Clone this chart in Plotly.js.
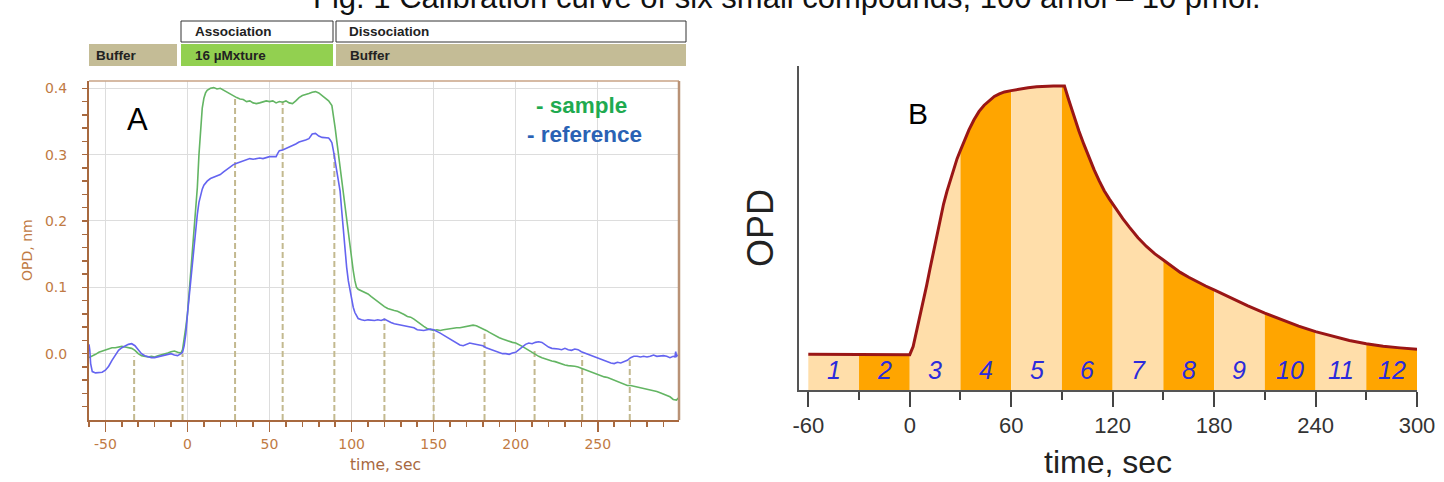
<!DOCTYPE html>
<html>
<head>
<meta charset="utf-8">
<script src="https://cdn.plot.ly/plotly-3.0.1.min.js"></script>
<style>html,body{margin:0;padding:0;background:#fff;}#chart{width:1444px;height:482px;}</style>
</head>
<body>
<div id="chart"></div>
<script>
// ---------------- DATA ----------------
// Panel A: sample (green) trace
const sampleTime = [-60,-58,-56,-54,-52,-50,-48,-46,-44,-42,-40,-38,-36,-34,-32,-30,-28,-26,-24,-22,-20,-18,-16,-14,-12,-10,-8,-6,-4,-3,-2,-1,0,1,2,3,4,5,6,7,8,9,10,11,12,14,16,18,20,22,24,26,28,30,32,34,36,38,40,42,44,46,48,50,52,54,56,58,60,62,64,66,68,70,72,74,76,78,80,82,84,86,88,89,90,91,92,93,94,95,96,97,98,99,100,101,102,103,104,106,108,110,112,114,116,118,120,122,124,126,128,130,132,134,136,138,140,142,144,146,148,150,152,154,156,158,160,162,164,166,168,170,172,174,176,178,180,182,184,186,188,190,192,194,196,198,200,202,204,206,208,210,212,214,216,218,220,222,224,226,228,230,232,234,236,238,240,242,244,246,248,250,252,254,256,258,260,262,264,266,268,270,272,274,276,278,280,282,284,286,288,290,292,294,296,298,299];
const sampleOPD = [-0.006,-0.004,-0.001,0.002,0.004,0.006,0.008,0.009,0.009,0.010,0.011,0.010,0.009,0.008,0.005,0.000,-0.003,-0.004,-0.005,-0.004,-0.005,-0.003,-0.002,0.000,0.001,0.003,0.004,0.002,0.001,0.006,0.02,0.04,0.06,0.09,0.12,0.15,0.185,0.215,0.25,0.30,0.34,0.37,0.385,0.393,0.397,0.400,0.401,0.399,0.400,0.397,0.394,0.391,0.388,0.386,0.384,0.383,0.380,0.381,0.378,0.377,0.378,0.379,0.381,0.380,0.381,0.378,0.380,0.379,0.381,0.378,0.377,0.381,0.386,0.389,0.390,0.392,0.394,0.395,0.393,0.389,0.384,0.381,0.374,0.36,0.34,0.32,0.30,0.28,0.26,0.24,0.22,0.20,0.18,0.16,0.14,0.125,0.11,0.10,0.097,0.095,0.093,0.090,0.086,0.082,0.078,0.074,0.071,0.068,0.066,0.065,0.064,0.062,0.059,0.056,0.055,0.052,0.048,0.044,0.041,0.038,0.036,0.035,0.036,0.035,0.036,0.037,0.037,0.038,0.039,0.039,0.040,0.041,0.042,0.043,0.042,0.040,0.038,0.035,0.032,0.029,0.026,0.024,0.022,0.020,0.018,0.017,0.016,0.014,0.011,0.008,0.005,0.002,-0.002,-0.004,-0.006,-0.008,-0.010,-0.011,-0.012,-0.014,-0.016,-0.017,-0.018,-0.018,-0.019,-0.020,-0.022,-0.024,-0.026,-0.028,-0.030,-0.032,-0.033,-0.035,-0.036,-0.038,-0.040,-0.042,-0.044,-0.046,-0.048,-0.048,-0.049,-0.050,-0.051,-0.052,-0.053,-0.054,-0.055,-0.057,-0.059,-0.061,-0.063,-0.065,-0.069,-0.070,-0.067];
// Panel A: reference (blue) trace
const referenceTime = [-60,-59.5,-59,-58,-56,-54,-52,-50,-48,-46,-44,-42,-40,-38,-36,-34,-32,-30,-28,-26,-24,-22,-20,-18,-16,-14,-12,-10,-8,-6,-4,-3,-2,-1,0,1,2,3,4,5,6,7,8,9,10,12,14,16,18,20,22,24,26,28,30,32,34,36,38,40,42,44,46,48,50,52,54,55,56,58,60,62,64,66,68,70,72,74,76,78,80,82,84,86,87,88,89,90,91,92,93,94,95,96,97,98,99,100,101,102,103,104,106,108,110,112,114,116,118,120,122,124,126,128,130,132,134,136,138,140,142,144,146,148,150,152,154,156,158,160,162,164,166,168,170,172,174,176,178,180,182,184,186,188,190,192,194,196,198,200,202,204,206,208,210,212,214,216,218,220,222,224,226,228,230,232,234,236,238,240,242,244,246,248,250,252,254,256,258,260,262,264,266,268,270,272,274,276,278,280,282,284,286,288,290,292,294,296,297,297.5,298,299];
const referenceOPD = [0.014,0.005,-0.015,-0.027,-0.029,-0.029,-0.028,-0.025,-0.019,-0.010,-0.002,0.005,0.009,0.012,0.014,0.015,0.012,0.006,0.000,-0.003,-0.005,-0.006,-0.006,-0.005,-0.004,-0.003,-0.001,0.000,-0.002,-0.003,0.000,0.002,0.012,0.030,0.060,0.085,0.11,0.135,0.165,0.19,0.21,0.228,0.24,0.248,0.254,0.260,0.264,0.266,0.268,0.270,0.274,0.278,0.282,0.285,0.287,0.289,0.290,0.293,0.294,0.293,0.294,0.295,0.294,0.296,0.297,0.297,0.297,0.302,0.306,0.307,0.309,0.311,0.314,0.316,0.319,0.320,0.322,0.324,0.331,0.332,0.328,0.326,0.325,0.325,0.322,0.318,0.305,0.29,0.275,0.26,0.245,0.215,0.185,0.155,0.13,0.11,0.095,0.08,0.07,0.062,0.057,0.053,0.051,0.050,0.051,0.050,0.050,0.051,0.050,0.052,0.049,0.047,0.045,0.044,0.043,0.043,0.042,0.040,0.039,0.036,0.035,0.035,0.036,0.037,0.036,0.034,0.031,0.028,0.025,0.022,0.019,0.016,0.013,0.012,0.014,0.016,0.015,0.014,0.013,0.012,0.009,0.007,0.005,0.003,0.002,0.000,0.000,-0.001,0.001,0.002,0.006,0.010,0.014,0.016,0.015,0.017,0.018,0.017,0.013,0.010,0.008,0.008,0.007,0.006,0.008,0.006,0.005,0.007,0.006,0.003,0.001,0.000,-0.002,-0.005,-0.007,-0.008,-0.010,-0.012,-0.014,-0.015,-0.013,-0.014,-0.012,-0.010,-0.006,-0.004,-0.004,-0.005,-0.004,-0.005,-0.004,-0.002,-0.004,-0.003,-0.003,-0.004,-0.006,-0.004,-0.005,0.003,-0.004,-0.002];
// Panel A: dashed sampling markers (time, top value)
const markerTimes = [-32.5,-3,29,58,89.5,120,150,181,211.5,240.5,269.5];
const markerTops  = [-0.004,0.0,0.387,0.380,0.304,0.053,0.037,0.030,0.008,-0.003,-0.010];
// Panel A tick labels
const aXTickVals = [-50,0,50,100,150,200,250];
const aXTickText = ["-50","0","50","100","150","200","250"];
const aYTickVals = [0,0.1,0.2,0.3,0.4];
const aYTickText = ["0.0","0.1","0.2","0.3","0.4"];
// Panel A phase bar
const phaseTop = [{text:"Association", x0:181, x1:333},{text:"Dissociation", x0:336, x1:686}];
const phaseBottom = [{text:"Buffer", x0:89, x1:177, color:"#c4bc96"},{text:"16 \u00b5Mxture", x0:181, x1:333, color:"#92d050"},{text:"Buffer", x0:336, x1:686, color:"#c4bc96"}];

// Panel B: schematic sensorgram
const bTime = [-60,-30,0,2,4,6,8,10,12,14,16,18,20,22,24,26,28,30,32,35,38,41,44,47,50,53,56,60,65,70,75,80,85,90,91.5,94,97,100,103,106,109,112,115,118,120,123,126,130,135,140,145,150,155,160,165,170,175,180,190,200,210,220,230,240,250,260,270,280,290,300];
const bOPD  = [11.0,11.0,10.9,13.4,18.0,22.6,27.4,32.3,37.5,42.7,47.9,53.0,57.4,61.3,64.9,68.4,71.4,74.0,76.6,80.3,83.4,86.0,87.9,89.4,90.6,91.4,92.0,92.4,92.9,93.3,93.6,93.8,93.8,93.8,93.8,89.6,84.6,80.0,75.8,71.8,68.0,64.6,61.5,59.0,57.4,55.1,52.9,50.2,47.0,44.3,42.0,40.1,38.1,36.3,34.8,33.4,32.1,30.9,28.4,26.0,23.7,21.6,19.7,18.0,16.6,15.3,14.3,13.5,13.0,12.6];
const bBandEdges = [-60,-30,0,30,60,90,120,150,180,210,240,270,300];
const bBandLabels = ["1","2","3","4","5","6","7","8","9","10","11","12"];
const bXTickVals = [-60,0,60,120,180,240,300];
const bXTickText = ["-60","0","60","120","180","240","300"];
const bXMinorVals = [-30,30,90,150,210,270];

// ---------------- LAYOUT HELPERS ----------------
const W = 1444, H = 482;
const px = v => v / W;
const py = v => 1 - v / H;
const axisBrown = "#a8693f";
const labelBrown = "#c07a44";

const traces = [];
// dashed markers
const dx = [], dy = [];
markerTimes.forEach((t, i) => { dx.push(t, t, null); dy.push(-0.1, markerTops[i], null); });
traces.push({x: dx, y: dy, xaxis: "x", yaxis: "y", mode: "lines", line: {color: "#c3b98f", width: 2, dash: "6px,3px"}, hoverinfo: "skip"});
traces.push({x: sampleTime, y: sampleOPD, xaxis: "x", yaxis: "y", mode: "lines", name: "sample", line: {color: "#63b563", width: 1.6}});
traces.push({x: referenceTime, y: referenceOPD, xaxis: "x", yaxis: "y", mode: "lines", name: "reference", line: {color: "#6464f0", width: 1.6}});

// Panel B bands
for (let i = 0; i < bBandEdges.length - 1; i++) {
  const xs = [], ys = [];
  bTime.forEach((t, j) => { if (t >= bBandEdges[i] && t <= bBandEdges[i + 1]) { xs.push(t); ys.push(bOPD[j]); } });
  traces.push({x: xs, y: ys, xaxis: "x2", yaxis: "y2", mode: "lines", fill: "tozeroy",
    fillcolor: i % 2 === 0 ? "#ffdeaa" : "#ffa500", line: {width: 0}, hoverinfo: "skip"});
}
traces.push({x: bTime, y: bOPD, xaxis: "x2", yaxis: "y2", mode: "lines", line: {color: "#9a1616", width: 3}});

// ---------------- SHAPES & ANNOTATIONS ----------------
const shapes = [];
const annotations = [];
const barFont = {family: "Liberation Sans, Arial", size: 13.5, color: "#222"};
phaseTop.forEach(p => {
  shapes.push({type: "rect", xref: "paper", yref: "paper", x0: px(p.x0), x1: px(p.x1), y0: py(42), y1: py(21), fillcolor: "#ffffff", line: {color: "#333", width: 1}});
  annotations.push({xref: "paper", yref: "paper", x: px(p.x0 + (p.text === "Association" ? 12 : 11)), y: py(32), xanchor: "left", yanchor: "middle", showarrow: false, text: "<b>" + p.text + "</b>", font: barFont});
});
phaseBottom.forEach(p => {
  shapes.push({type: "rect", xref: "paper", yref: "paper", x0: px(p.x0), x1: px(p.x1), y0: py(66), y1: py(44), fillcolor: p.color, line: {width: 0}});
  annotations.push({xref: "paper", yref: "paper", x: px(p.x0 + (p.x0 === 89 ? 5 : 12)), y: py(55), xanchor: "left", yanchor: "middle", showarrow: false, text: "<b>" + p.text + "</b>", font: barFont});
});
// Panel A frame top/right
shapes.push({type: "line", xref: "paper", yref: "paper", x0: px(89), x1: px(679), y0: py(81), y1: py(81), line: {color: "#c9a386", width: 1.5}});
shapes.push({type: "line", xref: "paper", yref: "paper", x0: px(679), x1: px(679), y0: py(81), y1: py(420), line: {color: "#b99276", width: 2.5}});

// Title (cropped at top, as in the source figure)
annotations.push({xref: "paper", yref: "paper", x: px(787), y: py(17), xanchor: "center", yanchor: "bottom", showarrow: false,
  text: "Fig. 1 Calibration curve of six small compounds, 100 amol \u2013 10 pmol.", font: {family: "Liberation Sans, Arial", size: 31, color: "#111"}});
// Panel letters
annotations.push({xref: "paper", yref: "paper", x: px(137), y: py(119), xanchor: "center", yanchor: "middle", showarrow: false, text: "A", font: {family: "Liberation Sans, Arial", size: 31, color: "#000"}});
annotations.push({xref: "paper", yref: "paper", x: px(918), y: py(113), xanchor: "center", yanchor: "middle", showarrow: false, text: "B", font: {family: "Liberation Sans, Arial", size: 30, color: "#000"}});
// Legend text
annotations.push({xref: "paper", yref: "paper", x: px(581), y: py(105), xanchor: "center", yanchor: "middle", showarrow: false, text: "<b>- sample</b>", font: {family: "Liberation Sans, Arial", size: 22.5, color: "#1faa50"}});
annotations.push({xref: "paper", yref: "paper", x: px(584), y: py(134), xanchor: "center", yanchor: "middle", showarrow: false, text: "<b>- reference</b>", font: {family: "Liberation Sans, Arial", size: 22.5, color: "#2a62b4"}});
// Axis titles
annotations.push({xref: "paper", yref: "paper", x: px(27), y: py(250), xanchor: "center", yanchor: "middle", textangle: -90, showarrow: false, text: "OPD, nm", font: {family: "DejaVu Sans", size: 14, color: labelBrown}});
annotations.push({xref: "paper", yref: "paper", x: px(385), y: py(465), xanchor: "center", yanchor: "middle", showarrow: false, text: "time, sec", font: {family: "DejaVu Sans", size: 15.5, color: "#a8693f"}});
annotations.push({xref: "paper", yref: "paper", x: px(760), y: py(228), xanchor: "center", yanchor: "middle", textangle: -90, showarrow: false, text: "OPD", font: {family: "Liberation Sans, Arial", size: 36, color: "#222"}});
annotations.push({xref: "paper", yref: "paper", x: px(1108), y: py(482), xanchor: "center", yanchor: "bottom", showarrow: false, text: "time, sec", font: {family: "Liberation Sans, Arial", size: 32, color: "#222"}});
// Band labels
bBandLabels.forEach((lab, i) => {
  annotations.push({xref: "x2", yref: "y2", x: (bBandEdges[i] + bBandEdges[i + 1]) / 2, y: 6.3, xanchor: "center", yanchor: "middle", showarrow: false,
    text: "<i>" + lab + "</i>", font: {family: "Liberation Sans, Arial", size: 25, color: "#2b2bdc"}});
});

// minor tick positions for panel A
const aXMinor = [];
for (let t = -60; t <= 290; t += 10) { if (t % 50 !== 0) aXMinor.push(t); }
const aYMinor = [];
for (let k = -4; k <= 19; k++) { if (k % 5 !== 0) aYMinor.push(k * 0.02); }

const layout = {
  width: W, height: H,
  margin: {l: 0, r: 0, t: 0, b: 0},
  paper_bgcolor: "#ffffff", plot_bgcolor: "#ffffff",
  showlegend: false,
  xaxis: {domain: [px(89), px(679)], anchor: "y", range: [-60, 299.5],
    tickmode: "array", tickvals: aXTickVals, ticktext: aXTickText,
    ticks: "outside", ticklen: 10, tickwidth: 1.5, tickcolor: axisBrown,
    showline: true, linecolor: axisBrown, linewidth: 2,
    showgrid: true, gridcolor: "#dddddd", gridwidth: 1, zeroline: false,
    tickfont: {family: "DejaVu Sans", size: 14, color: labelBrown},
    minor: {tickmode: "array", tickvals: aXMinor, ticks: "outside", ticklen: 5, tickwidth: 1.5, tickcolor: axisBrown, showgrid: false}},
  yaxis: {domain: [py(420), py(81)], anchor: "x", range: [-0.1, 0.411],
    tickmode: "array", tickvals: aYTickVals, ticktext: aYTickText,
    ticks: "outside", ticklen: 5, tickwidth: 1.5, tickcolor: axisBrown,
    showline: true, linecolor: axisBrown, linewidth: 2,
    showgrid: true, gridcolor: "#dddddd", gridwidth: 1, zeroline: false,
    ticklabelstandoff: 12,
    tickfont: {family: "DejaVu Sans", size: 14, color: labelBrown},
    minor: {tickmode: "array", tickvals: aYMinor, ticks: "outside", ticklen: 5, tickwidth: 1.5, tickcolor: axisBrown, showgrid: false}},
  xaxis2: {domain: [px(799), px(1417)], anchor: "y2", range: [-65.5, 300],
    tickmode: "array", tickvals: bXTickVals, ticktext: bXTickText,
    ticks: "outside", ticklen: 15, tickwidth: 2, tickcolor: "#444",
    showline: true, linecolor: "#555", linewidth: 2,
    showgrid: false, zeroline: false,
    tickfont: {family: "Liberation Sans, Arial", size: 22, color: "#333"},
    minor: {tickmode: "array", tickvals: bXMinorVals, ticks: "outside", ticklen: 8, tickwidth: 2, tickcolor: "#444", showgrid: false}},
  yaxis2: {domain: [py(390), py(66)], anchor: "x2", range: [0, 100],
    showline: true, linecolor: "#555", linewidth: 2,
    showticklabels: false, ticks: "", showgrid: false, zeroline: false},
  shapes: shapes,
  annotations: annotations
};

Plotly.newPlot("chart", traces, layout, {staticPlot: true, displayModeBar: false});
</script>
</body>
</html>
